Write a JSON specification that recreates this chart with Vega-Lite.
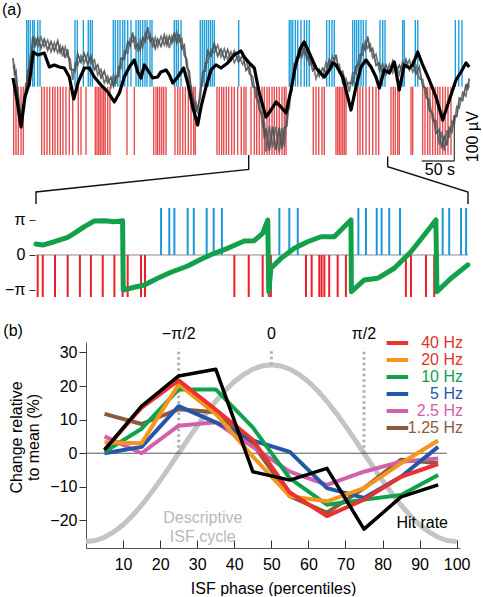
{
"$schema":"https://vega.github.io/schema/vega-lite/v6.json",
"background":"white",
"padding":{"left":1,"top":2,"right":0,"bottom":0},
"bounds":"flush",
"spacing":0,
"config":{"view":{"stroke":null},"font":"Liberation Sans","axis":{"labelFont":"Liberation Sans","titleFont":"Liberation Sans","domainColor":"#555","tickColor":"#333","labelColor":"#000","titleColor":"#000","grid":false},"legend":{"labelFont":"Liberation Sans"},"text":{"font":"Liberation Sans","fontSize":16}},
"datasets":{
"topBlue":[{"t":20.1},{"t":22.5},{"t":25.4},{"t":29.0},{"t":31.3},{"t":36.3},{"t":39.7},{"t":91.2},{"t":94.6},{"t":103.4},{"t":110.7},{"t":113.7},{"t":116.6},{"t":147.5},{"t":150.4},{"t":154.0},{"t":157.4},{"t":161.3},{"t":164.3},{"t":168.7},{"t":173.5},{"t":180.9},{"t":184.3},{"t":187.2},{"t":190.7},{"t":194.1},{"t":197.1},{"t":201.5},{"t":204.4},{"t":237.2},{"t":240.2},{"t":243.1},{"t":247.1},{"t":275.4},{"t":278.4},{"t":281.3},{"t":284.3},{"t":287.2},{"t":290.2},{"t":293.1},{"t":296.0},{"t":331.9},{"t":406.3},{"t":408.8},{"t":411.3},{"t":415.2},{"t":418.7},{"t":423.5},{"t":428.4},{"t":431.9},{"t":435.7},{"t":461.3},{"t":465.2},{"t":469.1},{"t":472.5},{"t":499.6},{"t":502.5},{"t":505.4},{"t":508.4},{"t":511.8},{"t":515.2},{"t":519.1},{"t":539.7},{"t":543.7},{"t":547.1},{"t":573.1},{"t":575.4},{"t":591.6},{"t":595.2},{"t":650.5},{"t":655.5},{"t":660.3}],
"topRed":[{"t":1.0},{"t":4.4},{"t":7.8},{"t":11.8},{"t":15.1},{"t":42.2},{"t":46.0},{"t":50.0},{"t":54.0},{"t":58.4},{"t":61.8},{"t":65.7},{"t":69.6},{"t":73.5},{"t":77.9},{"t":82.8},{"t":87.8},{"t":96.0},{"t":100.0},{"t":107.4},{"t":121.0},{"t":123.5},{"t":126.0},{"t":128.4},{"t":130.9},{"t":133.4},{"t":135.7},{"t":139.3},{"t":142.6},{"t":167.6},{"t":178.4},{"t":206.9},{"t":210.3},{"t":212.8},{"t":215.7},{"t":218.7},{"t":221.6},{"t":225.0},{"t":238.2},{"t":242.2},{"t":245.6},{"t":249.6},{"t":253.4},{"t":257.8},{"t":261.8},{"t":265.7},{"t":268.1},{"t":300.0},{"t":303.4},{"t":306.9},{"t":309.9},{"t":313.7},{"t":317.2},{"t":321.6},{"t":325.4},{"t":330.4},{"t":335.7},{"t":339.7},{"t":342.6},{"t":350.0},{"t":354.9},{"t":358.4},{"t":362.2},{"t":366.2},{"t":369.6},{"t":373.5},{"t":376.9},{"t":380.9},{"t":384.3},{"t":387.8},{"t":391.6},{"t":395.6},{"t":399.0},{"t":401.5},{"t":441.6},{"t":445.6},{"t":449.6},{"t":454.4},{"t":457.8},{"t":475.0},{"t":477.5},{"t":479.9},{"t":482.3},{"t":484.8},{"t":487.2},{"t":489.7},{"t":506.9},{"t":510.3},{"t":514.3},{"t":519.1},{"t":524.0},{"t":529.0},{"t":533.8},{"t":537.8},{"t":555.9},{"t":559.3},{"t":562.2},{"t":565.7},{"t":568.1},{"t":585.3},{"t":587.8},{"t":602.5},{"t":605.9},{"t":609.8},{"t":613.2},{"t":617.2},{"t":621.0},{"t":624.5},{"t":627.9},{"t":631.9},{"t":635.7},{"t":639.7},{"t":644.1}],
"gray":[{"t":0,"v":68,"w":44},{"t":2.2,"v":30,"w":50},{"t":4.4,"v":37,"w":9},{"t":8.1,"v":-36,"w":-20},{"t":11.8,"v":-68,"w":-90},{"t":14,"v":-69,"w":-43},{"t":16.2,"v":-23,"w":-41},{"t":18.9,"v":-16,"w":8},{"t":21.6,"v":35,"w":11},{"t":25.3,"v":55,"w":75},{"t":29,"v":120,"w":92},{"t":32.7,"v":98,"w":114},{"t":36.3,"v":117,"w":95},{"t":41.2,"v":92,"w":118},{"t":46,"v":113,"w":95},{"t":51,"v":87,"w":111},{"t":55.9,"v":107,"w":83},{"t":60.8,"v":85,"w":105},{"t":65.7,"v":109,"w":81},{"t":69.4,"v":81,"w":97},{"t":73.1,"v":94,"w":72},{"t":76.8,"v":68,"w":94},{"t":80.4,"v":89,"w":71},{"t":84.1,"v":42,"w":66},{"t":87.8,"v":40,"w":16},{"t":91.5,"v":36,"w":56},{"t":95.1,"v":78,"w":50},{"t":100,"v":58,"w":74},{"t":104.9,"v":79,"w":57},{"t":109.8,"v":53,"w":79},{"t":114.7,"v":73,"w":55},{"t":119.7,"v":40,"w":64},{"t":124.6,"v":52,"w":28},{"t":129.5,"v":21,"w":41},{"t":134.3,"v":37,"w":9},{"t":139.2,"v":9,"w":25},{"t":144.1,"v":22,"w":0},{"t":147.8,"v":1,"w":27},{"t":151.5,"v":25,"w":7},{"t":155.2,"v":24,"w":48},{"t":158.8,"v":68,"w":44},{"t":163.8,"v":65,"w":85},{"t":168.7,"v":108,"w":80},{"t":172.4,"v":98,"w":114},{"t":176,"v":129,"w":107},{"t":179.7,"v":92,"w":118},{"t":183.4,"v":101,"w":83},{"t":187.1,"v":87,"w":111},{"t":190.7,"v":118,"w":94},{"t":194.4,"v":107,"w":127},{"t":198.1,"v":142,"w":114},{"t":201.8,"v":108,"w":124},{"t":205.4,"v":115,"w":93},{"t":209.1,"v":91,"w":117},{"t":212.8,"v":113,"w":95},{"t":217.7,"v":96,"w":120},{"t":222.5,"v":123,"w":99},{"t":226.2,"v":99,"w":119},{"t":229.9,"v":120,"w":92},{"t":233.6,"v":104,"w":120},{"t":237.2,"v":129,"w":107},{"t":240.9,"v":104,"w":130},{"t":244.6,"v":125,"w":107},{"t":248.3,"v":90,"w":114},{"t":251.9,"v":99,"w":75},{"t":255.6,"v":45,"w":65},{"t":259.3,"v":37,"w":9},{"t":262.5,"v":-16,"w":0},{"t":265.7,"v":-28,"w":-50},{"t":268.7,"v":-60,"w":-34},{"t":271.6,"v":-47,"w":-65},{"t":275.3,"v":-28,"w":-4},{"t":279,"v":35,"w":11},{"t":282.7,"v":37,"w":57},{"t":286.3,"v":85,"w":57},{"t":291.2,"v":73,"w":89},{"t":296,"v":103,"w":81},{"t":301,"v":73,"w":99},{"t":305.9,"v":89,"w":71},{"t":310.8,"v":66,"w":90},{"t":315.7,"v":88,"w":64},{"t":320.6,"v":63,"w":83},{"t":325.4,"v":85,"w":57},{"t":331.6,"v":59,"w":75},{"t":337.8,"v":75,"w":53},{"t":342.7,"v":39,"w":65},{"t":347.5,"v":49,"w":31},{"t":352.5,"v":0,"w":24},{"t":357.4,"v":-3,"w":-27},{"t":362.3,"v":-57,"w":-37},{"t":367.2,"v":-65,"w":-93},{"t":369.7,"v":-123,"w":-83},{"t":372.1,"v":-99,"w":-155},{"t":377,"v":-153,"w":-93},{"t":381.9,"v":-95,"w":-145},{"t":386.8,"v":-151,"w":-95},{"t":391.6,"v":-97,"w":-157},{"t":395.3,"v":-148,"w":-98},{"t":399,"v":-98,"w":-142},{"t":402.7,"v":-94,"w":-64},{"t":406.3,"v":-27,"w":-51},{"t":410,"v":-10,"w":10},{"t":413.7,"v":54,"w":26},{"t":417.4,"v":52,"w":68},{"t":421,"v":91,"w":69},{"t":424.7,"v":71,"w":97},{"t":428.4,"v":96,"w":78},{"t":432,"v":64,"w":88},{"t":435.7,"v":76,"w":52},{"t":440.7,"v":38,"w":58},{"t":445.6,"v":47,"w":19},{"t":450.5,"v":25,"w":41},{"t":455.4,"v":44,"w":22},{"t":460.3,"v":32,"w":58},{"t":465.2,"v":65,"w":47},{"t":470.1,"v":48,"w":72},{"t":475,"v":76,"w":52},{"t":479.9,"v":33,"w":53},{"t":484.8,"v":37,"w":9},{"t":489.7,"v":3,"w":19},{"t":494.6,"v":10,"w":-12},{"t":499.5,"v":7,"w":33},{"t":504.4,"v":49,"w":31},{"t":509.4,"v":52,"w":76},{"t":514.3,"v":99,"w":75},{"t":518,"v":87,"w":107},{"t":521.6,"v":120,"w":92},{"t":525.3,"v":85,"w":101},{"t":529,"v":91,"w":69},{"t":533.9,"v":51,"w":77},{"t":538.7,"v":56,"w":38},{"t":543.6,"v":31,"w":55},{"t":548.5,"v":52,"w":28},{"t":553.5,"v":33,"w":53},{"t":558.4,"v":61,"w":33},{"t":563.3,"v":35,"w":51},{"t":568.1,"v":51,"w":29},{"t":573,"v":35,"w":61},{"t":577.9,"v":65,"w":47},{"t":582.9,"v":40,"w":64},{"t":587.8,"v":59,"w":35},{"t":592.7,"v":30,"w":50},{"t":597.5,"v":47,"w":19},{"t":602.5,"v":1,"w":17},{"t":607.4,"v":-4,"w":-26},{"t":612.3,"v":-57,"w":-31},{"t":617.2,"v":-63,"w":-81},{"t":622.1,"v":-111,"w":-81},{"t":626.9,"v":-102,"w":-138},{"t":630.6,"v":-147,"w":-107},{"t":634.3,"v":-116,"w":-152},{"t":638,"v":-140,"w":-104},{"t":641.6,"v":-98,"w":-122},{"t":645.3,"v":-108,"w":-82},{"t":649,"v":-70,"w":-88},{"t":652.7,"v":-71,"w":-47},{"t":656.3,"v":-27,"w":-51},{"t":661.3,"v":-33,"w":-13},{"t":666.2,"v":6,"w":-22},{"t":668.6,"v":-8,"w":8},{"t":671,"v":20,"w":-2}],
"smooth":[{"t":0,"v":20.7},{"t":5.9,"v":-31.7},{"t":11.8,"v":-95.9},{"t":17.6,"v":-24.5},{"t":24,"v":8.8},{"t":29.9,"v":82.6},{"t":36.3,"v":75.5},{"t":46,"v":80.2},{"t":53.4,"v":46.9},{"t":60.7,"v":51.7},{"t":68.1,"v":46.9},{"t":75.4,"v":44.5},{"t":82.8,"v":23.1},{"t":89.3,"v":-29.3},{"t":96,"v":11.2},{"t":104.9,"v":44.5},{"t":112.2,"v":44.5},{"t":119.6,"v":23.1},{"t":129.4,"v":4},{"t":139.3,"v":-12.6},{"t":149,"v":-36.4},{"t":156.4,"v":-15},{"t":163.7,"v":23.1},{"t":171,"v":46.9},{"t":178.4,"v":63.6},{"t":183.4,"v":35},{"t":188.2,"v":20.7},{"t":193.1,"v":51.7},{"t":198.1,"v":39.8},{"t":205.4,"v":20.7},{"t":212.8,"v":23.1},{"t":217.6,"v":35},{"t":225,"v":39.8},{"t":229.9,"v":27.9},{"t":234.9,"v":8.8},{"t":242.2,"v":23.1},{"t":251,"v":44.5},{"t":256.9,"v":8.8},{"t":264.3,"v":-48.3},{"t":271.6,"v":-91.2},{"t":276.5,"v":-48.3},{"t":283.8,"v":-0.7},{"t":291.2,"v":39.8},{"t":298.5,"v":51.7},{"t":305.9,"v":44.5},{"t":315.7,"v":56.4},{"t":325.4,"v":75.5},{"t":335.3,"v":85},{"t":340.2,"v":70.7},{"t":347.5,"v":56.4},{"t":354.9,"v":44.5},{"t":362.2,"v":-15},{"t":372.1,"v":-72.1},{"t":379.4,"v":-55.5},{"t":386.8,"v":-36.4},{"t":394.1,"v":-48.3},{"t":401.5,"v":-62.6},{"t":408.8,"v":-7.9},{"t":416.2,"v":56.4},{"t":423.5,"v":94.5},{"t":428.4,"v":106.4},{"t":435.7,"v":80.2},{"t":445.6,"v":44.5},{"t":457.8,"v":23.1},{"t":465.2,"v":39.8},{"t":470.1,"v":56.4},{"t":474.9,"v":51.7},{"t":484.8,"v":23.1},{"t":492.2,"v":-24.5},{"t":497.1,"v":-55.5},{"t":504.4,"v":-0.7},{"t":511.8,"v":46.9},{"t":519.1,"v":63.6},{"t":526.5,"v":46.9},{"t":533.8,"v":23.1},{"t":538.7,"v":-3.1},{"t":546,"v":39.8},{"t":553.4,"v":32.6},{"t":560.7,"v":58.8},{"t":568.1,"v":-7.9},{"t":575.4,"v":51.7},{"t":582.8,"v":44.5},{"t":587.8,"v":51.7},{"t":595.2,"v":82.6},{"t":602.5,"v":51.7},{"t":612.2,"v":16},{"t":622.1,"v":-24.5},{"t":631.9,"v":-79.3},{"t":641.6,"v":-31.7},{"t":651.5,"v":16},{"t":658.8,"v":35},{"t":666.2,"v":56.4},{"t":671,"v":46.9}],
"bracket":[{"side":"start","k":1,"t":346.6,"v":-162.6},{"side":"start","k":2,"t":346.6,"v":-197},{"side":"start","k":3,"t":33.8,"v":-250.7},{"side":"start","k":4,"t":33.8,"v":-279.3},{"side":"end","k":1,"t":551.0,"v":-166},{"side":"end","k":2,"t":551.0,"v":-190.5},{"side":"end","k":3,"t":669.1,"v":-250.7},{"side":"end","k":4,"t":669.1,"v":-279.3}],
"phase":[{"t":347.0,"p":0.99},{"t":350.2,"p":0.89},{"t":355.7,"p":1.19},{"t":362.0,"p":1.58},{"t":365.1,"p":1.94},{"t":369.9,"p":2.55},{"t":374.6,"p":3.05},{"t":379.3,"p":3.08},{"t":384.1,"p":2.99},{"t":388.0,"p":3.08},{"t":388.3,"p":-3.14},{"t":393.5,"p":-2.90},{"t":398.3,"p":-2.69},{"t":404.6,"p":-2.09},{"t":410.9,"p":-1.55},{"t":418.8,"p":-0.99},{"t":425.1,"p":-0.39},{"t":431.4,"p":0.15},{"t":437.7,"p":0.60},{"t":445.6,"p":1.25},{"t":450.3,"p":1.28},{"t":454.3,"p":1.94},{"t":456.7,"p":3.14},{"t":457.2,"p":-3.29},{"t":458.2,"p":-1.19},{"t":463.0,"p":-0.30},{"t":469.3,"p":0.60},{"t":475.6,"p":1.19},{"t":481.9,"p":1.64},{"t":488.2,"p":1.64},{"t":496.1,"p":3.14},{"t":496.3,"p":-3.29},{"t":502.4,"p":-2.24},{"t":508.7,"p":-2.09},{"t":516.6,"p":-1.19},{"t":524.5,"p":0.29},{"t":530.8,"p":1.80},{"t":536.3,"p":3.14},{"t":536.8,"p":-3.29},{"t":543.5,"p":-2.09},{"t":551.4,"p":-0.89}],
"phaseBlue":[{"t":406.2},{"t":410.1},{"t":412.5},{"t":418.8},{"t":421.7},{"t":427.8},{"t":431.1},{"t":435.0},{"t":462.2},{"t":466.9},{"t":470.9},{"t":499.6},{"t":503.2},{"t":508.3},{"t":510.6},{"t":514.2},{"t":519.3},{"t":539.5},{"t":542.6},{"t":548.2},{"t":550.6}],
"phaseRed":[{"t":347.8},{"t":350.2},{"t":356.0},{"t":362.0},{"t":367.8},{"t":373.0},{"t":378.6},{"t":384.1},{"t":388.0},{"t":390.4},{"t":396.7},{"t":398.6},{"t":440.9},{"t":447.7},{"t":454.3},{"t":457.2},{"t":458.2},{"t":474.8},{"t":477.5},{"t":481.1},{"t":482.2},{"t":483.5},{"t":485.8},{"t":489.8},{"t":493.7},{"t":522.1},{"t":524.5},{"t":531.6},{"t":535.5}],
"isf":[{"pct":0,"change":-26.3},{"pct":2.5,"change":-25.98},{"pct":5,"change":-25.01},{"pct":7.5,"change":-23.43},{"pct":10,"change":-21.28},{"pct":12.5,"change":-18.6},{"pct":15,"change":-15.46},{"pct":17.5,"change":-11.94},{"pct":20,"change":-8.13},{"pct":22.5,"change":-4.11},{"pct":25,"change":0},{"pct":27.5,"change":4.11},{"pct":30,"change":8.13},{"pct":32.5,"change":11.94},{"pct":35,"change":15.46},{"pct":37.5,"change":18.6},{"pct":40,"change":21.28},{"pct":42.5,"change":23.43},{"pct":45,"change":25.01},{"pct":47.5,"change":25.98},{"pct":50,"change":26.3},{"pct":52.5,"change":25.98},{"pct":55,"change":25.01},{"pct":57.5,"change":23.43},{"pct":60,"change":21.28},{"pct":62.5,"change":18.6},{"pct":65,"change":15.46},{"pct":67.5,"change":11.94},{"pct":70,"change":8.13},{"pct":72.5,"change":4.11},{"pct":75,"change":0},{"pct":77.5,"change":-4.11},{"pct":80,"change":-8.13},{"pct":82.5,"change":-11.94},{"pct":85,"change":-15.46},{"pct":87.5,"change":-18.6},{"pct":90,"change":-21.28},{"pct":92.5,"change":-23.43},{"pct":95,"change":-25.01},{"pct":97.5,"change":-25.98},{"pct":100,"change":-26.3}],
"phaseMarks":[{"pct":25,"label":"−π/2","curve":0},{"pct":50,"label":"0","curve":26.3},{"pct":75,"label":"π/2","curve":0}],
"rates":[
{"band":"1.25 Hz","pct":5,"change":11.7},{"band":"1.25 Hz","pct":15,"change":8.7},{"band":"1.25 Hz","pct":25,"change":13.1},{"band":"1.25 Hz","pct":35,"change":12.2},{"band":"1.25 Hz","pct":45,"change":2.8},{"band":"1.25 Hz","pct":55,"change":-12.8},{"band":"1.25 Hz","pct":65,"change":-17.7},{"band":"1.25 Hz","pct":75,"change":-10.4},{"band":"1.25 Hz","pct":85,"change":-1.9},{"band":"1.25 Hz","pct":95,"change":-3},
{"band":"2.5 Hz","pct":5,"change":5},{"band":"2.5 Hz","pct":15,"change":0},{"band":"2.5 Hz","pct":25,"change":8.2},{"band":"2.5 Hz","pct":35,"change":9.2},{"band":"2.5 Hz","pct":45,"change":1.9},{"band":"2.5 Hz","pct":55,"change":-5.5},{"band":"2.5 Hz","pct":65,"change":-9.4},{"band":"2.5 Hz","pct":75,"change":-5.5},{"band":"2.5 Hz","pct":85,"change":-2.5},{"band":"2.5 Hz","pct":95,"change":-1.6},
{"band":"5 Hz","pct":5,"change":0},{"band":"5 Hz","pct":15,"change":1.9},{"band":"5 Hz","pct":25,"change":14},{"band":"5 Hz","pct":35,"change":9.2},{"band":"5 Hz","pct":45,"change":3.8},{"band":"5 Hz","pct":55,"change":0.4},{"band":"5 Hz","pct":65,"change":-10.4},{"band":"5 Hz","pct":75,"change":-13.3},{"band":"5 Hz","pct":85,"change":-7},{"band":"5 Hz","pct":95,"change":1.9},
{"band":"10 Hz","pct":5,"change":0.4},{"band":"10 Hz","pct":15,"change":7.3},{"band":"10 Hz","pct":25,"change":19},{"band":"10 Hz","pct":35,"change":19},{"band":"10 Hz","pct":45,"change":7.7},{"band":"10 Hz","pct":55,"change":-7.5},{"band":"10 Hz","pct":65,"change":-15.3},{"band":"10 Hz","pct":75,"change":-13.8},{"band":"10 Hz","pct":85,"change":-12.4},{"band":"10 Hz","pct":95,"change":-6.5},
{"band":"20 Hz","pct":5,"change":3.3},{"band":"20 Hz","pct":15,"change":3},{"band":"20 Hz","pct":25,"change":20.5},{"band":"20 Hz","pct":35,"change":11.7},{"band":"20 Hz","pct":45,"change":-1},{"band":"20 Hz","pct":55,"change":-12.8},{"band":"20 Hz","pct":65,"change":-14.3},{"band":"20 Hz","pct":75,"change":-10.4},{"band":"20 Hz","pct":85,"change":-3},{"band":"20 Hz","pct":95,"change":3.8},
{"band":"40 Hz","pct":5,"change":1},{"band":"40 Hz","pct":15,"change":13.6},{"band":"40 Hz","pct":25,"change":21.7},{"band":"40 Hz","pct":35,"change":13},{"band":"40 Hz","pct":45,"change":4},{"band":"40 Hz","pct":55,"change":-11.7},{"band":"40 Hz","pct":65,"change":-18.7},{"band":"40 Hz","pct":75,"change":-13.8},{"band":"40 Hz","pct":85,"change":-7},{"band":"40 Hz","pct":95,"change":-3.2}],
"hits":[{"pct":5,"change":1},{"pct":15,"change":14},{"pct":25,"change":23},{"pct":35,"change":25},{"pct":45,"change":-5.5},{"pct":55,"change":-8},{"pct":65,"change":-4.5},{"pct":75,"change":-22.6},{"pct":85,"change":-13},{"pct":95,"change":-9.4}]
},
"vconcat":[
{
"width":383,"height":185,
"layer":[
{"data":{"name":"topBlue"},"mark":{"type":"rule","color":"#22a0dc","strokeWidth":1.4},
 "encoding":{"x":{"field":"t","type":"quantitative","scale":{"domain":[107.35,670.6],"nice":false,"zero":false},"axis":null},
 "y":{"datum":0,"type":"quantitative","scale":{"domain":[-281.7,158.8],"nice":false,"zero":false},"axis":null},"y2":{"datum":158.8}}},
{"data":{"name":"topRed"},"mark":{"type":"rule","color":"#e63a3c","strokeWidth":1.4,"opacity":0.9},
 "encoding":{"x":{"field":"t","type":"quantitative","scale":{"domain":[107.35,670.6],"nice":false,"zero":false},"axis":null},
 "y":{"datum":0,"type":"quantitative","scale":{"domain":[-281.7,158.8],"nice":false,"zero":false},"axis":null},"y2":{"datum":-162.6}}},
{"data":{"name":"gray"},"mark":{"type":"line","color":"#5a6063","strokeWidth":1.7,"opacity":0.85},
 "encoding":{"x":{"field":"t","type":"quantitative","scale":{"domain":[107.35,670.6],"nice":false,"zero":false},"axis":null},
 "y":{"field":"w","type":"quantitative","scale":{"domain":[-281.7,158.8],"nice":false,"zero":false},"axis":null}}},
{"data":{"name":"gray"},"mark":{"type":"line","color":"#4a5053","strokeWidth":1.7,"opacity":0.9},
 "encoding":{"x":{"field":"t","type":"quantitative","scale":{"domain":[107.35,670.6],"nice":false,"zero":false},"axis":null},
 "y":{"field":"v","type":"quantitative","scale":{"domain":[-281.7,158.8],"nice":false,"zero":false},"axis":null}}},
{"data":{"name":"smooth"},"mark":{"type":"line","color":"#000000","strokeWidth":3.2,"strokeJoin":"round"},
 "encoding":{"x":{"field":"t","type":"quantitative","scale":{"domain":[107.35,670.6],"nice":false,"zero":false},"axis":null},
 "y":{"field":"v","type":"quantitative","scale":{"domain":[-281.7,158.8],"nice":false,"zero":false},"axis":null}}},
{"data":{"name":"bracket"},"mark":{"type":"line","color":"#111111","strokeWidth":1.4},
 "encoding":{"x":{"field":"t","type":"quantitative","scale":{"domain":[107.35,670.6],"nice":false,"zero":false},"axis":null},
 "y":{"field":"v","type":"quantitative","scale":{"domain":[-281.7,158.8],"nice":false,"zero":false},"axis":null},
 "detail":{"field":"side","type":"nominal"},"order":{"field":"k","type":"quantitative"}}},
{"data":{"values":[{}]},"mark":{"type":"rule","color":"#444444","strokeWidth":1.3},
 "encoding":{"x":{"datum":649,"type":"quantitative","axis":null},"y":{"datum":-67.6,"type":"quantitative","axis":null},"y2":{"datum":-176.9}}},
{"data":{"values":[{}]},"mark":{"type":"rule","color":"#444444","strokeWidth":1.3},
 "encoding":{"x":{"datum":601,"type":"quantitative","axis":null},"x2":{"datum":649},"y":{"datum":-176.9,"type":"quantitative","axis":null}}},
{"data":{"values":[{}]},"mark":{"type":"text","text":"50 s","fontSize":16,"align":"center","baseline":"middle"},
 "encoding":{"x":{"datum":627.9,"type":"quantitative","axis":null},"y":{"datum":-198.3,"type":"quantitative","axis":null}}},
{"data":{"values":[{}]},"mark":{"type":"text","text":"100 µV","fontSize":16,"align":"center","baseline":"middle","angle":270},
 "encoding":{"x":{"datum":676.0,"type":"quantitative","axis":null},"y":{"datum":-119.1,"type":"quantitative","axis":null}}},
{"data":{"values":[{}]},"mark":{"type":"text","text":"(a)","fontSize":16,"align":"left","baseline":"middle"},
 "encoding":{"x":{"datum":-16.2,"type":"quantitative","axis":null},"y":{"datum":182.6,"type":"quantitative","axis":null}}}
]
},
{
"width":382,"height":137,
"layer":[
{"data":{"values":[{}]},"mark":{"type":"rule","color":"#888888","strokeWidth":1},
 "encoding":{"x":{"datum":347,"type":"quantitative","scale":{"domain":[370.67,551.5],"nice":false,"zero":false},"axis":null},"x2":{"datum":551.5},
 "y":{"datum":0,"type":"quantitative","scale":{"domain":[-7.81,4.488],"nice":false,"zero":false}}}},
{"data":{"name":"phaseBlue"},"mark":{"type":"rule","color":"#1b98d8","strokeWidth":2},
 "encoding":{"x":{"field":"t","type":"quantitative","scale":{"domain":[370.67,551.5],"nice":false,"zero":false},"axis":null},
 "y":{"datum":0,"type":"quantitative","scale":{"domain":[-7.81,4.488],"nice":false,"zero":false}},"y2":{"datum":4.219}}},
{"data":{"name":"phaseRed"},"mark":{"type":"rule","color":"#ec2028","strokeWidth":2},
 "encoding":{"x":{"field":"t","type":"quantitative","scale":{"domain":[370.67,551.5],"nice":false,"zero":false},"axis":null},
 "y":{"datum":0,"type":"quantitative","scale":{"domain":[-7.81,4.488],"nice":false,"zero":false}},"y2":{"datum":-3.77}}},
{"data":{"name":"phase"},"mark":{"type":"line","color":"#12a04a","strokeWidth":5,"strokeCap":"round","strokeJoin":"round"},
 "encoding":{"x":{"field":"t","type":"quantitative","scale":{"domain":[370.67,551.5],"nice":false,"zero":false},"axis":null},
 "y":{"field":"p","type":"quantitative","scale":{"domain":[-7.81,4.488],"nice":false,"zero":false},
  "axis":{"values":[-3.14159,0,3.14159],"labelExpr":"datum.value > 1 ? 'π' : (datum.value < -1 ? '−π' : '0')","offset":51,"domain":false,"grid":false,"tickSize":6,"tickColor":"#333","labelFontSize":16,"labelPadding":4,"title":null}}}}
]
},
{
"width":374,"height":206,
"layer":[
{"data":{"name":"isf"},"mark":{"type":"line","color":"#c3c4c6","strokeWidth":5},
 "encoding":{
 "x":{"field":"pct","type":"quantitative","scale":{"domain":[0,100.9],"nice":false,"zero":false},
  "axis":{"values":[10,20,30,40,50,60,70,80,90,100],"title":"ISF phase (percentiles)","tickSize":-8,"labelPadding":16,"labelFlush":false,"labelOverlap":false,"labelFontSize":16,"titleFontSize":16,"titleFontWeight":"normal","titlePadding":8,"domainColor":"#555","tickColor":"#333"}},
 "y":{"field":"change","type":"quantitative","scale":{"domain":[-28.2,33.1],"nice":false,"zero":false},
  "axis":{"values":[-20,-10,0,10,20,30],"title":["Change relative","to mean (%)"],"tickSize":7,"labelPadding":2,"labelFlush":false,"labelFontSize":16,"titleFontSize":16,"titleFontWeight":"normal","titlePadding":8,"titleLineHeight":17,"titleY":95,"domainColor":"#555","tickColor":"#333"}}}},
{"data":{"name":"phaseMarks"},"mark":{"type":"rule","color":"#b0b0b0","strokeWidth":3,"strokeDash":[2.5,3]},
 "encoding":{"x":{"field":"pct","type":"quantitative"},"y":{"field":"curve","type":"quantitative"},"y2":{"datum":31.2}}},
{"data":{"name":"phaseMarks"},"mark":{"type":"text","fontSize":16,"align":"center","baseline":"middle"},
 "encoding":{"x":{"field":"pct","type":"quantitative"},"y":{"datum":35.4,"type":"quantitative"},"text":{"field":"label","type":"nominal"}}},
{"data":{"values":[{}]},"mark":{"type":"rule","color":"#555555","strokeWidth":1},
 "encoding":{"x":{"datum":0,"type":"quantitative"},"x2":{"datum":97.3},"y":{"datum":0,"type":"quantitative"}}},
{"data":{"name":"rates"},"mark":{"type":"line","strokeWidth":4,"strokeJoin":"round"},
 "encoding":{"x":{"field":"pct","type":"quantitative"},"y":{"field":"change","type":"quantitative"},
  "color":{"field":"band","type":"nominal","scale":{"domain":["40 Hz","20 Hz","10 Hz","5 Hz","2.5 Hz","1.25 Hz"],"range":["#e8332f","#f7941e","#0fa24b","#2457a8","#d260ab","#8b5a3c"]},
  "legend":{"orient":"none","legendX":300.6,"legendY":315,"direction":"vertical","title":null,"symbolType":"M-1.45,0H1.45","symbolSize":256,"symbolStrokeWidth":4,"labelFontSize":16,"labelAlign":"right","labelOffset":56.4,"clipHeight":16.2,"rowPadding":0,"padding":0,
   "encode":{"labels":{"update":{"fill":{"signal":"datum.label === '10 Hz' ? '#0fa24b' : (datum.label === '5 Hz' ? '#2457a8' : (datum.label === '2.5 Hz' ? '#d260ab' : (datum.label === '1.25 Hz' ? '#8b5a3c' : '#e4312b')))"}}}}}},
  "detail":{"field":"band","type":"nominal"}}},
{"data":{"name":"hits"},"mark":{"type":"line","color":"#000000","strokeWidth":3.5,"strokeJoin":"round"},
 "encoding":{"x":{"field":"pct","type":"quantitative"},"y":{"field":"change","type":"quantitative"}}},
{"data":{"values":[{}]},"mark":{"type":"text","text":["Descriptive","ISF cycle"],"fontSize":16,"lineHeight":18.7,"align":"center","baseline":"middle","color":"#b9b9b9"},
 "encoding":{"x":{"datum":31.5,"type":"quantitative"},"y":{"datum":-19.35,"type":"quantitative"}}},
{"data":{"values":[{}]},"mark":{"type":"text","text":"Hit rate","fontSize":16,"align":"center","baseline":"middle","color":"#000000"},
 "encoding":{"x":{"datum":90.7,"type":"quantitative"},"y":{"datum":-20.7,"type":"quantitative"}}},
{"data":{"values":[{}]},"mark":{"type":"text","text":"(b)","fontSize":16,"align":"left","baseline":"middle","color":"#000000"},
 "encoding":{"x":{"datum":-22.3,"type":"quantitative"},"y":{"datum":36.5,"type":"quantitative"}}}
]
}
]
}
